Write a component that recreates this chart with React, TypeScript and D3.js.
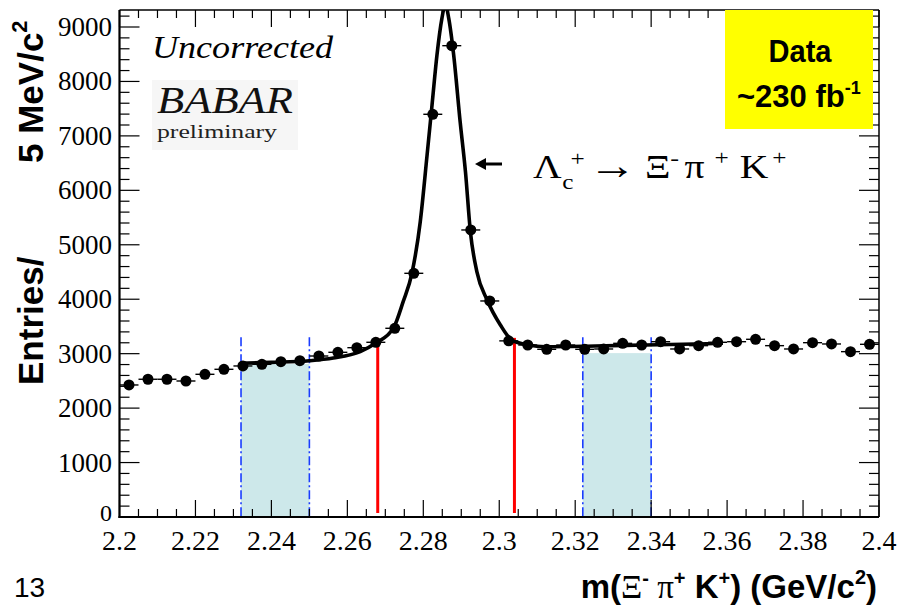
import React from "react";
import * as d3 from "d3";

// ---- data ----
const binCenters = [
  2.2025, 2.2075, 2.2125, 2.2175, 2.2225, 2.2275, 2.2325, 2.2375, 2.2425, 2.2475,
  2.2525, 2.2575, 2.2625, 2.2675, 2.2725, 2.2775, 2.2825, 2.2875, 2.2925, 2.2975,
  2.3025, 2.3075, 2.3125, 2.3175, 2.3225, 2.3275, 2.3325, 2.3375, 2.3425, 2.3475,
  2.3525, 2.3575, 2.3625, 2.3675, 2.3725, 2.3775, 2.3825, 2.3875, 2.3925, 2.3975,
];
const entries = [
  2425, 2530, 2530, 2498, 2621, 2713, 2774, 2805, 2853, 2871,
  2957, 3025, 3110, 3209, 3466, 4476, 7397, 8657, 5272, 3968,
  3235, 3159, 3080, 3159, 3080, 3086, 3190, 3159, 3220, 3086,
  3147, 3209, 3220, 3264, 3147, 3086, 3202, 3178, 3037, 3172,
];
const binHalfWidth = 0.0025;

// fit curve
const fitMass = [
  2.2318, 2.24, 2.25, 2.2563, 2.2634, 2.2674, 2.2722, 2.2747, 2.277, 2.2792,
  2.281, 2.2823, 2.2836, 2.2849, 2.2858, 2.2867, 2.288, 2.2897, 2.2911, 2.2924,
  2.2941, 2.2968, 2.3003, 2.3033, 2.3077, 2.3121, 2.3253, 2.3384, 2.3516, 2.3589,
];
const fitValue = [
  2823, 2840, 2870, 2920, 3037, 3190, 3478, 3955, 4476, 5424,
  6650, 7568, 8486, 9159, 9420, 9159, 8486, 7261, 6343, 5240,
  4506, 3986, 3527, 3251, 3159, 3128, 3141, 3159, 3178, 3190,
];

const sidebands = [
  { lo: 2.232, hi: 2.25, top: 2810 },
  { lo: 2.322, hi: 2.34, top: 3010 },
];
const sidebandLineTop = 3300;
const signalEdges = [2.268, 2.304];
const signalLineTop = 3290;

const xTickValues = [2.2, 2.22, 2.24, 2.26, 2.28, 2.3, 2.32, 2.34, 2.36, 2.38, 2.4];
const xTickLabels = ["2.2", "2.22", "2.24", "2.26", "2.28", "2.3", "2.32", "2.34", "2.36", "2.38", "2.4"];
const yTickValues = [0, 1000, 2000, 3000, 4000, 5000, 6000, 7000, 8000, 9000];
const yTickLabels = ["0", "1000", "2000", "3000", "4000", "5000", "6000", "7000", "8000", "9000"];

const SERIF = "'Liberation Serif', 'Times New Roman', Times, serif";
const SANS = "'Liberation Sans', Arial, Helvetica, sans-serif";
const serif = { fontFamily: SERIF };
const sans = { fontFamily: SANS };

export default function App() {
  const L = 119.5, R = 879, T = 10, B = 517;
  const x = d3.scaleLinear().domain([2.2, 2.4]).range([L, R]);
  const y = d3.scaleLinear().domain([0, 9000]).range([B, 27]);

  const minorX = d3.range(0, 41).map((i) => 2.2 + i * 0.005);
  const yMax = y.invert(T);
  const minorY = d3.range(0, yMax, 200);

  const line = d3
    .line<number>()
    .x((_, i) => x(fitMass[i]))
    .y((d) => y(d))
    .curve(d3.curveMonotoneX);

  return (
    <svg
      width={899}
      height={610}
      style={{ position: "absolute", left: 0, top: 0, background: "#fff" }}
    >
      <defs>
        <clipPath id="plot">
          <rect x={L} y={T} width={R - L} height={B - T} />
        </clipPath>
      </defs>
      <rect x={0} y={0} width={899} height={610} fill="#fff" />

      {/* BaBar logo background */}
      <rect x={152} y={80} width={146} height={70} fill="#f6f6f6" />

      {/* sidebands */}
      {sidebands.map((s, i) => (
        <g key={"sb" + i}>
          <rect
            x={x(s.lo)}
            y={y(s.top)}
            width={x(s.hi) - x(s.lo)}
            height={B - y(s.top)}
            fill="#cde8ea"
          />
          {[s.lo, s.hi].map((v, j) => (
            <line
              key={j}
              x1={x(v)}
              x2={x(v)}
              y1={y(sidebandLineTop)}
              y2={B}
              stroke="#1a3cff"
              strokeWidth={1.6}
              strokeDasharray="9,3,2,3"
            />
          ))}
        </g>
      ))}

      {/* signal region edges */}
      {signalEdges.map((v, i) => (
        <line
          key={"sig" + i}
          x1={x(v)}
          x2={x(v)}
          y1={y(signalLineTop)}
          y2={B - 4}
          stroke="#ff0000"
          strokeWidth={3}
        />
      ))}

      {/* fit curve */}
      <path
        d={line(fitValue) || ""}
        fill="none"
        stroke="#000"
        strokeWidth={3.6}
        strokeLinejoin="round"
        clipPath="url(#plot)"
      />

      {/* data points */}
      {binCenters.map((c, i) => (
        <g key={"p" + i}>
          <line
            x1={x(c - binHalfWidth)}
            x2={x(c + binHalfWidth)}
            y1={y(entries[i])}
            y2={y(entries[i])}
            stroke="#000"
            strokeWidth={1.4}
          />
          <circle cx={x(c)} cy={y(entries[i])} r={5.5} fill="#000" />
        </g>
      ))}

      {/* frame */}
      <line x1={L} x2={R} y1={T} y2={T} stroke="#000" strokeWidth={1.5} />
      <line x1={R} x2={R} y1={T} y2={B} stroke="#000" strokeWidth={1.5} />
      <line x1={L} x2={L} y1={T} y2={B + 1} stroke="#000" strokeWidth={2.2} />
      <line x1={L - 1} x2={R} y1={B} y2={B} stroke="#000" strokeWidth={2.2} />

      {/* x ticks (bottom and top) */}
      {minorX.map((v, i) => {
        const major = i % 4 === 0;
        const len = major ? 17 : 8;
        return (
          <g key={"xt" + i}>
            <line x1={x(v)} x2={x(v)} y1={B} y2={B - len} stroke="#000" strokeWidth={1.2} />
            <line x1={x(v)} x2={x(v)} y1={T} y2={T + len} stroke="#000" strokeWidth={1.2} />
          </g>
        );
      })}
      {/* y ticks (left and right) */}
      {minorY.map((v, i) => {
        const major = i % 5 === 0;
        const len = major ? 20 : 10;
        return (
          <g key={"yt" + i}>
            <line x1={L} x2={L + len} y1={y(v)} y2={y(v)} stroke="#000" strokeWidth={1.2} />
            <line x1={R} x2={R - len} y1={y(v)} y2={y(v)} stroke="#000" strokeWidth={1.2} />
          </g>
        );
      })}

      {/* tick labels */}
      {xTickValues.map((v, i) => (
        <text
          key={"xl" + i}
          x={x(v)}
          y={550}
          textAnchor="middle"
          fontFamily={SERIF}
          style={serif}
          fontSize={28}
          fill="#000"
        >
          {xTickLabels[i]}
        </text>
      ))}
      {yTickValues.map((v, i) => (
        <text
          key={"yl" + i}
          x={112}
          y={y(v) + (i === 0 ? 4 : 9)}
          textAnchor="end"
          fontFamily={SERIF}
          style={serif}
          fontSize={i === 0 ? 24 : 27}
          fill="#000"
        >
          {yTickLabels[i]}
        </text>
      ))}

      {/* y axis title */}
      <text
        transform="translate(43,385) rotate(-90)"
        fontFamily={SANS}
        style={sans}
        fontWeight="bold"
        fontSize={35}
        fill="#000"
      >
        Entries/
      </text>
      <text
        transform="translate(43,163) rotate(-90)"
        fontFamily={SANS}
        style={sans}
        fontWeight="bold"
        fontSize={35}
        fill="#000"
      >
        5 MeV/c
        <tspan fontSize={22} dy={-16}>
          2
        </tspan>
      </text>

      {/* x axis title */}
      <text x={877} y={598} textAnchor="end" fontFamily={SANS} style={sans} fontWeight="bold" fontSize={33} fill="#000">
        m(
        <tspan style={serif} fontWeight="normal">Ξ</tspan>
        <tspan fontSize={20} dy={-13}>-</tspan>
        <tspan dy={13} style={serif} fontWeight="normal"> π</tspan>
        <tspan fontSize={20} dy={-13}>+</tspan>
        <tspan dy={13}> K</tspan>
        <tspan fontSize={20} dy={-13}>+</tspan>
        <tspan dy={13}>) (GeV/c</tspan>
        <tspan fontSize={20} dy={-14}>2</tspan>
        <tspan dy={14}>)</tspan>
      </text>

      {/* page number */}
      <text x={14} y={597} fontFamily={SANS} style={sans} fontSize={28} fill="#000">
        13
      </text>

      {/* Uncorrected + BaBar logo */}
      <text
        x={152}
        y={58}
        fontFamily={SERIF}
        style={serif}
        fontStyle="italic"
        fontSize={31}
        textLength={181}
        lengthAdjust="spacingAndGlyphs"
        fill="#000"
      >
        Uncorrected
      </text>
      <text
        x={157}
        y={113}
        fontFamily={SERIF}
        style={serif}
        fontStyle="italic"
        fontSize={37}
        textLength={136}
        lengthAdjust="spacingAndGlyphs"
        fill="#111"
      >
        BABAR
      </text>
      <text
        x={157}
        y={138}
        fontFamily={SERIF}
        style={serif}
        fontSize={18}
        textLength={120}
        lengthAdjust="spacingAndGlyphs"
        fill="#222"
      >
        preliminary
      </text>

      {/* decay annotation */}
      <line x1={502} x2={482} y1={164} y2={164} stroke="#000" strokeWidth={3} />
      <path d="M475,164 L486,158 L486,170 Z" fill="#000" />
      <g transform="translate(531,178) scale(1.2,1)" fontFamily={SERIF} style={serif} fill="#000">
        <text x={1.7} y={0} fontSize={33}>Λ</text>
        <text x={26} y={11} fontSize={21}>c</text>
        <text x={33} y={-12} fontSize={21}>+</text>
        <text x={48} y={1} fontSize={40}>→</text>
        <text x={95} y={0} fontSize={33}>Ξ</text>
        <text x={116} y={-13} fontSize={22}>-</text>
        <text x={128} y={0} fontSize={33}>π</text>
        <text x={153} y={-13} fontSize={21}>+</text>
        <text x={174} y={0} fontSize={33}>K</text>
        <text x={201} y={-13} fontSize={21}>+</text>
      </g>

      {/* data box */}
      <rect x={725} y={10} width={148} height={119} fill="#ffff00" />
      <text
        x={800}
        y={62}
        textAnchor="middle"
        fontFamily={SANS}
        style={sans}
        fontWeight="bold"
        fontSize={31}
        textLength={63}
        lengthAdjust="spacingAndGlyphs"
        fill="#000"
      >
        Data
      </text>
      <text x={737} y={107} fontFamily={SANS} style={sans} fontWeight="bold" fontSize={31} fill="#000">
        ~230 fb
        <tspan fontSize={18} dy={-13}>-1</tspan>
      </text>
    </svg>
  );
}
